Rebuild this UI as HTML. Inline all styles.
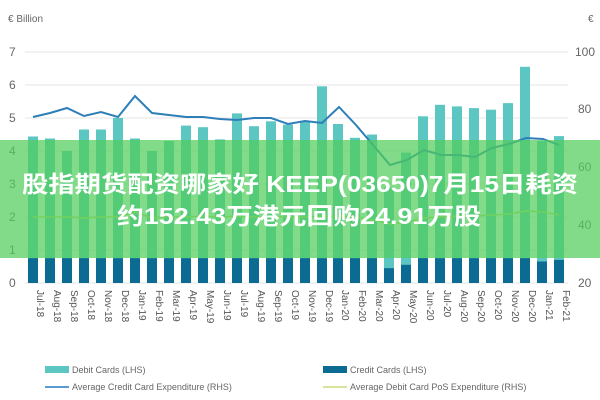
<!DOCTYPE html>
<html><head><meta charset="utf-8"><style>
html,body{margin:0;padding:0;background:#fff;width:600px;height:400px;overflow:hidden}
svg{display:block}
</style></head><body>
<svg width="600" height="400" xmlns="http://www.w3.org/2000/svg" font-family="Liberation Sans, sans-serif">
<rect width="600" height="400" fill="#fff"/>
<text x="8" y="22" font-size="10" fill="#666">€ Billion</text>
<text x="588" y="22" font-size="10" fill="#666">€</text>
<g stroke="#e6e6e6" stroke-width="1">
<line x1="25" x2="568" y1="52" y2="52"/><line x1="25" x2="568" y1="85" y2="85"/>
<line x1="25" x2="568" y1="118" y2="118"/><line x1="25" x2="568" y1="151" y2="151"/>
<line x1="25" x2="568" y1="184" y2="184"/><line x1="25" x2="568" y1="217" y2="217"/>
<line x1="25" x2="568" y1="250" y2="250"/><line x1="25" x2="568" y1="283" y2="283"/>
</g>
<g font-size="12" fill="#666">
<text x="9" y="56">7</text><text x="9" y="89">6</text><text x="9" y="122">5</text><text x="9" y="155">4</text>
<text x="9" y="188">3</text><text x="9" y="221">2</text><text x="9" y="254">1</text><text x="9" y="287">0</text>
<text x="575" y="56">100</text><text x="578" y="113">80</text><text x="578" y="171">60</text><text x="578" y="229">40</text><text x="578" y="287">20</text>
</g>
<g fill="#5cc6c2">
<rect x="28" y="136.5" width="10" height="146.5"/>
<rect x="45" y="138.5" width="10" height="144.5"/>
<rect x="62" y="151" width="10" height="132"/>
<rect x="79" y="129.5" width="10" height="153.5"/>
<rect x="96" y="129.5" width="10" height="153.5"/>
<rect x="113" y="118" width="10" height="165"/>
<rect x="130" y="138.5" width="10" height="144.5"/>
<rect x="147" y="151" width="10" height="132"/>
<rect x="164" y="141" width="10" height="142"/>
<rect x="181" y="125.6" width="10" height="157.4"/>
<rect x="198" y="127.2" width="10" height="155.8"/>
<rect x="215" y="139.4" width="10" height="143.6"/>
<rect x="232" y="113.4" width="10" height="169.6"/>
<rect x="249" y="126.2" width="10" height="156.8"/>
<rect x="266" y="121.3" width="10" height="161.7"/>
<rect x="283" y="124.6" width="10" height="158.4"/>
<rect x="300" y="121.3" width="10" height="161.7"/>
<rect x="317" y="86.3" width="10" height="196.7"/>
<rect x="333" y="124" width="10" height="159"/>
<rect x="350" y="137.8" width="10" height="145.2"/>
<rect x="367" y="134.5" width="10" height="148.5"/>
<rect x="384" y="187.3" width="10" height="95.7"/>
<rect x="401" y="152.6" width="10" height="130.4"/>
<rect x="418" y="116.3" width="10" height="166.7"/>
<rect x="435" y="104.8" width="10" height="178.2"/>
<rect x="452" y="106.4" width="10" height="176.6"/>
<rect x="469" y="108.1" width="10" height="174.9"/>
<rect x="486" y="109.7" width="10" height="173.3"/>
<rect x="503" y="103.1" width="10" height="179.9"/>
<rect x="520" y="66.8" width="10" height="216.2"/>
<rect x="537" y="141" width="10" height="142"/>
<rect x="554" y="136.1" width="10" height="146.9"/>
</g>
<g fill="#0b6b93">
<rect x="28" y="258.2" width="10" height="24.8"/>
<rect x="45" y="258.2" width="10" height="24.8"/>
<rect x="62" y="258.2" width="10" height="24.8"/>
<rect x="79" y="258.2" width="10" height="24.8"/>
<rect x="96" y="258.2" width="10" height="24.8"/>
<rect x="113" y="258.2" width="10" height="24.8"/>
<rect x="130" y="258.2" width="10" height="24.8"/>
<rect x="147" y="258.2" width="10" height="24.8"/>
<rect x="164" y="258.2" width="10" height="24.8"/>
<rect x="181" y="258.2" width="10" height="24.8"/>
<rect x="198" y="258.2" width="10" height="24.8"/>
<rect x="215" y="258.2" width="10" height="24.8"/>
<rect x="232" y="258.2" width="10" height="24.8"/>
<rect x="249" y="258.2" width="10" height="24.8"/>
<rect x="266" y="258.2" width="10" height="24.8"/>
<rect x="283" y="258.2" width="10" height="24.8"/>
<rect x="300" y="258.2" width="10" height="24.8"/>
<rect x="317" y="258.2" width="10" height="24.8"/>
<rect x="333" y="258.2" width="10" height="24.8"/>
<rect x="350" y="258.2" width="10" height="24.8"/>
<rect x="367" y="258.2" width="10" height="24.8"/>
<rect x="384" y="268.2" width="10" height="14.8"/>
<rect x="401" y="264.8" width="10" height="18.2"/>
<rect x="418" y="258.2" width="10" height="24.8"/>
<rect x="435" y="258.2" width="10" height="24.8"/>
<rect x="452" y="258.2" width="10" height="24.8"/>
<rect x="469" y="258.2" width="10" height="24.8"/>
<rect x="486" y="258.2" width="10" height="24.8"/>
<rect x="503" y="258.2" width="10" height="24.8"/>
<rect x="520" y="258.2" width="10" height="24.8"/>
<rect x="537" y="261.5" width="10" height="21.5"/>
<rect x="554" y="259.9" width="10" height="23.1"/>
</g>
<polyline fill="none" stroke="#2e7fb8" stroke-width="2" points="33,117 50,113 67,108 84,116 101,112 118,117 135,96 152,113 169,115 186,117 203,117 220,119 237,120 254,118 271,118 288,124 305,121 322,123 339,107 356,125 373,145 390,165 407,160 424,150 441,155 458,155 475,157 492,148 509,144 526,138 543,139 559,145"/>
<polyline fill="none" stroke="#c8dc6a" stroke-width="1.5" points="33,217 50,217 67,217 84,218 101,217 118,217 135,212 152,218 169,217 186,217 203,216 220,217 237,216 254,217 271,217 288,217 305,217 322,216 339,216 356,217 373,220 390,224 407,222 424,218 441,217 458,216 475,216 492,215 509,214 526,211 543,212 559,215"/>
<rect x="0" y="140" width="600" height="118" fill="rgba(80,205,90,0.72)"/>
<text x="300" y="192" text-anchor="middle" font-size="23" font-weight="bold" fill="#fff" font-family="Liberation Sans, Noto Sans CJK SC, sans-serif" textLength="556" lengthAdjust="spacingAndGlyphs">股指期货配资哪家好 KEEP(03650)7月15日耗资</text>
<text x="299" y="224" text-anchor="middle" font-size="23" font-weight="bold" fill="#fff" font-family="Liberation Sans, Noto Sans CJK SC, sans-serif" textLength="364" lengthAdjust="spacingAndGlyphs">约152.43万港元回购24.91万股</text>
<g font-size="10" fill="#555">
<text transform="translate(37,290) rotate(90)">Jul-18</text>
<text transform="translate(54,290) rotate(90)">Aug-18</text>
<text transform="translate(71,290) rotate(90)">Sep-18</text>
<text transform="translate(88,290) rotate(90)">Oct-18</text>
<text transform="translate(105,290) rotate(90)">Nov-18</text>
<text transform="translate(122,290) rotate(90)">Dec-18</text>
<text transform="translate(139,290) rotate(90)">Jan-19</text>
<text transform="translate(156,290) rotate(90)">Feb-19</text>
<text transform="translate(173,290) rotate(90)">Mar-19</text>
<text transform="translate(190,290) rotate(90)">Apr-19</text>
<text transform="translate(207,290) rotate(90)">May-19</text>
<text transform="translate(224,290) rotate(90)">Jun-19</text>
<text transform="translate(241,290) rotate(90)">Jul-19</text>
<text transform="translate(258,290) rotate(90)">Aug-19</text>
<text transform="translate(275,290) rotate(90)">Sep-19</text>
<text transform="translate(292,290) rotate(90)">Oct-19</text>
<text transform="translate(309,290) rotate(90)">Nov-19</text>
<text transform="translate(326,290) rotate(90)">Dec-19</text>
<text transform="translate(342,290) rotate(90)">Jan-20</text>
<text transform="translate(359,290) rotate(90)">Feb-20</text>
<text transform="translate(376,290) rotate(90)">Mar-20</text>
<text transform="translate(393,290) rotate(90)">Apr-20</text>
<text transform="translate(410,290) rotate(90)">May-20</text>
<text transform="translate(427,290) rotate(90)">Jun-20</text>
<text transform="translate(444,290) rotate(90)">Jul-20</text>
<text transform="translate(461,290) rotate(90)">Aug-20</text>
<text transform="translate(478,290) rotate(90)">Sep-20</text>
<text transform="translate(495,290) rotate(90)">Oct-20</text>
<text transform="translate(512,290) rotate(90)">Nov-20</text>
<text transform="translate(529,290) rotate(90)">Dec-20</text>
<text transform="translate(546,290) rotate(90)">Jan-21</text>
<text transform="translate(563,290) rotate(90)">Feb-21</text>
</g>
<rect x="45" y="366" width="24" height="7" fill="#5cc6c2"/><text x="72" y="373" font-size="9" fill="#666">Debit Cards (LHS)</text>
<rect x="323" y="366" width="24" height="7" fill="#0b6b93"/><text x="350" y="373" font-size="9" fill="#666">Credit Cards (LHS)</text>
<line x1="45" x2="69" y1="387" y2="387" stroke="#5b9bd5" stroke-width="2"/><text x="72" y="390" font-size="9" fill="#666">Average Credit Card Expenditure (RHS)</text>
<line x1="323" x2="347" y1="387" y2="387" stroke="#d4e49a" stroke-width="2"/><text x="350" y="390" font-size="9" fill="#666">Average Debit Card PoS Expenditure (RHS)</text>
</svg>
</body></html>
